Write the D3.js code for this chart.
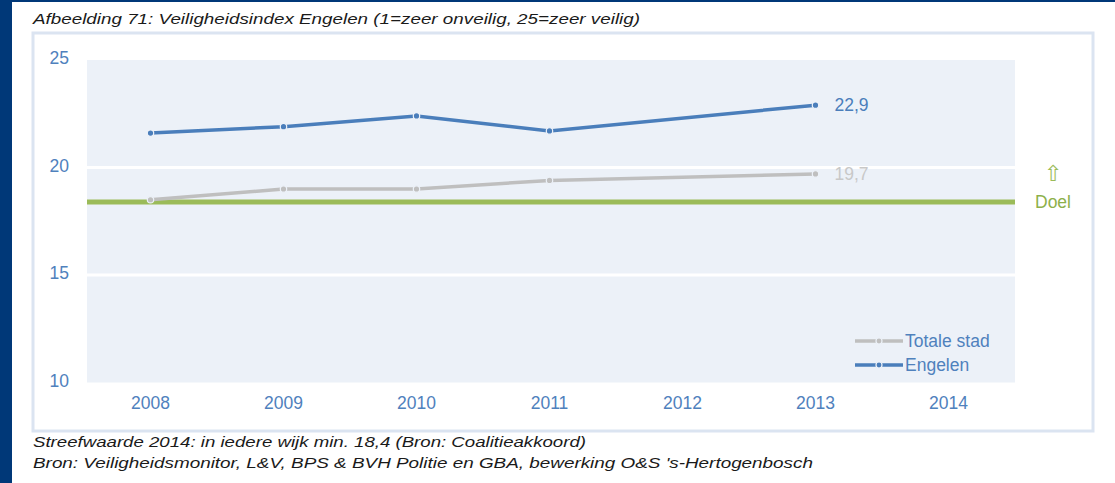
<!DOCTYPE html>
<html><head><meta charset="utf-8">
<script src="https://cdn.jsdelivr.net/npm/d3@7"></script>
<style>body{margin:0;padding:0;background:#fff;}svg{display:block;}</style>
</head><body>
<svg id="c" width="1115" height="483"></svg>
<script>
const years = ["2008","2009","2010","2011","2012","2013","2014"];
const totaleStad = [18.5, 19.0, 19.0, 19.4, null, 19.7, null];
const engelen = [21.6, 21.9, 22.4, 21.7, null, 22.9, null];
const target = 18.4;
const yTicks = [10, 15, 20, 25];
const seriesNames = ["Totale stad", "Engelen"];
const titleText = "Afbeelding 71: Veiligheidsindex Engelen (1=zeer onveilig, 25=zeer veilig)";
const notes = ["Streefwaarde 2014: in iedere wijk min. 18,4 (Bron: Coalitieakkoord)",
  "Bron: Veiligheidsmonitor, L&V, BPS & BVH Politie en GBA, bewerking O&S 's-Hertogenbosch"];

const svg = d3.select("#c");
const font = "'Liberation Sans', Arial, sans-serif";
const fs = 17.5;
// background frame
svg.append("rect").attr("x",0).attr("y",0).attr("width",1115).attr("height",483).attr("fill","#003878");
svg.append("rect").attr("x",12).attr("y",2).attr("width",1103).attr("height",481).attr("fill","#ffffff");
svg.append("rect").attr("x",33).attr("y",33).attr("width",1060).attr("height",398)
  .attr("fill","none").attr("stroke","#dbe4f1").attr("stroke-width",3);

svg.append("text").attr("x",33).attr("y",24).attr("font-family",font).attr("font-style","italic")
  .attr("font-size",15).attr("fill","#1a1a1a").attr("textLength",607).attr("lengthAdjust","spacingAndGlyphs").text(titleText);
notes.forEach((t,i)=>{
  svg.append("text").attr("x",33).attr("y",447+i*21).attr("font-family",font).attr("font-style","italic")
    .attr("font-size",15).attr("fill","#1a1a1a").attr("textLength", i===0?553:780).attr("lengthAdjust","spacingAndGlyphs").text(t);
});

const x = d3.scaleBand().domain(years).range([84,1015]);
const y = d3.scaleLinear().domain([10,25]).range([382.5,60]);
const cx = d => x(d)+x.bandwidth()/2;

// plot area
svg.append("rect").attr("x",87).attr("y",y(25)).attr("width",1015-87).attr("height",y(10)-y(25)).attr("fill","#ecf1f8");
svg.selectAll(".grid").data(yTicks.filter(t=>t>10&&t<25)).join("line")
  .attr("x1",87).attr("x2",1015).attr("y1",d=>y(d)).attr("y2",d=>y(d))
  .attr("stroke","#ffffff").attr("stroke-width",3);

// axes (labels only)
const yAxis = svg.append("g").attr("transform","translate(69,-2)")
  .call(d3.axisLeft(y).tickValues(yTicks).tickSize(0).tickPadding(0));
yAxis.select(".domain").remove();
yAxis.selectAll("text").attr("font-family",font).attr("font-size",fs).attr("fill","#4f81bd").attr("text-anchor","end");
const xAxis = svg.append("g").attr("transform","translate(0,397)")
  .call(d3.axisBottom(x).tickSize(0).tickPadding(0));
xAxis.select(".domain").remove();
xAxis.selectAll("text").attr("font-family",font).attr("font-size",fs).attr("fill","#4f81bd");

// target line
svg.append("line").attr("x1",87).attr("x2",1015).attr("y1",y(target)).attr("y2",y(target))
  .attr("stroke","#9bbb59").attr("stroke-width",5);
svg.append("text").attr("x",1053).attr("y",181).attr("text-anchor","middle").attr("font-family","'DejaVu Sans', sans-serif")
  .attr("font-size",22).attr("fill","#9bbb59").text("⇧");
svg.append("text").attr("x",1053).attr("y",208).attr("text-anchor","middle").attr("font-family",font)
  .attr("font-size",fs).attr("fill","#8db04a").text("Doel");

const series = [{name:seriesNames[0], vals:totaleStad, color:"#bfbfbf"},{name:seriesNames[1], vals:engelen, color:"#4a7ebb"}];
const line = d3.line().x(d=>cx(d.year)).y(d=>y(d.v));
series.forEach(s=>{
  const pts = years.map((yr,i)=>({year:yr, v:s.vals[i]})).filter(d=>d.v!==null);
  svg.append("path").datum(pts).attr("d",line).attr("fill","none").attr("stroke",s.color).attr("stroke-width",3.5);
  svg.selectAll(null).data(pts).join("circle").attr("cx",d=>cx(d.year)).attr("cy",d=>y(d.v)).attr("r",3.2)
    .attr("fill",s.color).attr("stroke","#ecf1f8").attr("stroke-width",1.2);
  const last = pts[pts.length-1];
  svg.append("text").attr("x",cx(last.year)+19).attr("y",y(last.v)+6).attr("font-family",font).attr("font-size",fs)
    .attr("fill", s.name==="Engelen" ? "#4a7ebb" : "#c8c8c8").text(String(last.v).replace(".",","));
});

// legend
series.forEach((s,i)=>{
  const ly = 341 + i*24;
  const g = svg.append("g");
  g.append("line").attr("x1",855).attr("x2",903).attr("y1",ly).attr("y2",ly).attr("stroke",s.color).attr("stroke-width",3.5);
  g.append("circle").attr("cx",879).attr("cy",ly).attr("r",3).attr("fill",s.color).attr("stroke","#ecf1f8").attr("stroke-width",1.2);
  g.append("text").attr("x",905).attr("y",ly+6).attr("font-family",font).attr("font-size",fs).attr("fill","#4f81bd").text(s.name);
});
</script>
</body></html>
